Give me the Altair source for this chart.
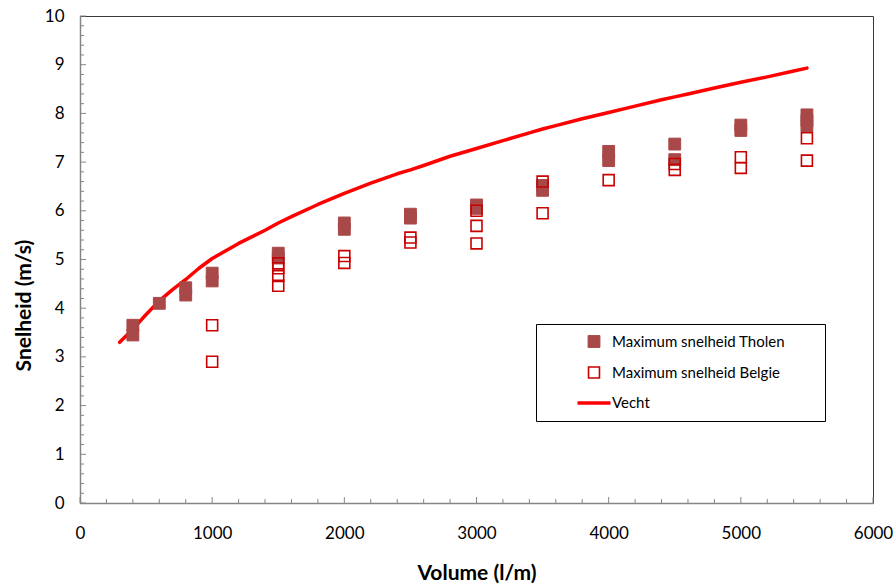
import altair as alt
import pandas as pd
import numpy as np

# ---------------- data ----------------
tholen_volume = [400, 400, 600, 800, 800, 1000, 1000, 1500, 1500, 2000, 2000,
                 2500, 2500, 3000, 3000, 3500, 3500, 4000, 4000, 4500, 4500,
                 5000, 5000, 5500, 5500, 5500]
tholen_speed = [3.65, 3.45, 4.10, 4.42, 4.27, 4.72, 4.56, 5.13, 5.03, 5.75, 5.62,
                5.93, 5.85, 6.12, 6.05, 6.52, 6.42, 7.22, 7.03, 7.37, 7.05,
                7.76, 7.65, 7.97, 7.85, 7.74]

belgie_volume = [1000, 1000, 1500, 1500, 1500, 1500, 2000, 2000, 2500, 2500,
                 3000, 3000, 3000, 3500, 3500, 4000, 4500, 4500, 5000, 5000,
                 5500, 5500]
belgie_speed = [3.65, 2.90, 4.92, 4.82, 4.66, 4.46, 5.07, 4.93, 5.45, 5.35,
                6.00, 5.69, 5.33, 6.60, 5.95, 6.63, 6.96, 6.84, 7.10, 6.88,
                7.49, 7.03]

vecht_volume = [300, 400, 500, 600, 700, 800, 900, 1000, 1200, 1400, 1500, 1600,
                1800, 2000, 2200, 2400, 2500, 2600, 2800, 3000, 3200, 3400, 3500,
                3600, 3800, 4000, 4200, 4400, 4500, 4600, 4800, 5000, 5200, 5400, 5500]
vecht_speed = [3.30, 3.57, 3.87, 4.15, 4.38, 4.59, 4.82, 5.02, 5.33, 5.60, 5.75, 5.88,
               6.13, 6.36, 6.57, 6.76, 6.84, 6.93, 7.12, 7.28, 7.44, 7.60, 7.68,
               7.75, 7.89, 8.02, 8.15, 8.28, 8.34, 8.40, 8.52, 8.64, 8.75, 8.87, 8.93]

series_names = ["Maximum snelheid Tholen", "Maximum snelheid Belgie", "Vecht"]

x_major = list(range(0, 6001, 1000))
x_minor = [v for v in range(0, 6001, 200) if v % 1000 != 0]
y_major = list(range(0, 11))
y_minor = [round(v, 1) for v in np.arange(0, 10.01, 0.2) if abs(v - round(v)) > 1e-6]

# ---------------- layout ----------------
W, H = 793, 487
FONT = "Lato"
AXIS_GRAY = "#868686"

points_df = pd.DataFrame({
    "volume": tholen_volume + belgie_volume,
    "speed": tholen_speed + belgie_speed,
    "series": [series_names[0]] * len(tholen_volume) + [series_names[1]] * len(belgie_volume),
    "order": [0] * len(tholen_volume) + [1] * len(belgie_volume),
})
line_df = pd.DataFrame({"volume": vecht_volume, "speed": vecht_speed,
                        "series": series_names[2]})

xscale = alt.Scale(domain=[0, 6000], nice=False, zero=False)
yscale = alt.Scale(domain=[0, 10], nice=False)

x_axis = alt.Axis(values=x_major, title="Volume (l/m)", ticks=False, grid=False,
                  labelPadding=22, titlePadding=21, format="d", labelFlush=False)
y_axis = alt.Axis(values=y_major, title="Snelheid (m/s)", ticks=False, grid=False,
                  labelPadding=16, titlePadding=10, labelFlush=False, titleY=289)

# the (white, invisible) right-hand title only widens the legend box like the original
leg = alt.Legend(orient="none", legendX=456, legendY=308,
                 title="MM", titleOrient="right", titleColor="white",
                 titleFontSize=14, titlePadding=6,
                 strokeColor="black", fillColor="white", padding=10,
                 symbolOffset=40, labelFont=FONT, labelFontSize=15,
                 labelColor="black", rowPadding=13, labelOffset=10, labelLimit=300)

dom = series_names
stroke_enc = alt.Stroke("series:N", scale=alt.Scale(domain=dom, range=["#a94848", "#c80000", "#ff0000"]), legend=leg)
fill_enc = alt.Fill("series:N", scale=alt.Scale(domain=dom, range=["#a94848", "transparent", "#ff0000"]), legend=leg)
shape_enc = alt.Shape("series:N", scale=alt.Scale(domain=dom, range=["square", "square", "M-2.75,0H2.75"]), legend=leg)
size_enc = alt.Size("series:N", scale=alt.Scale(type="ordinal", domain=dom, range=[140, 120, 144]), legend=leg)
sw_enc = alt.StrokeWidth("series:N", scale=alt.Scale(type="ordinal", domain=dom, range=[1, 1.6, 3.5]), legend=leg)

line = alt.Chart(line_df).mark_line(strokeCap="round", strokeJoin="round").encode(
    x=alt.X("volume:Q", scale=xscale, axis=x_axis),
    y=alt.Y("speed:Q", scale=yscale, axis=y_axis),
    stroke=stroke_enc,
    strokeWidth=sw_enc,
)

pts = alt.Chart(points_df).mark_point(filled=True, opacity=1).encode(
    x=alt.X("volume:Q", scale=xscale, axis=x_axis),
    y=alt.Y("speed:Q", scale=yscale, axis=y_axis),
    stroke=stroke_enc,
    fill=fill_enc,
    shape=shape_enc,
    size=size_enc,
    strokeWidth=sw_enc,
    order=alt.Order("order:Q"),
)

def xticks(vals, length):
    return alt.Chart(pd.DataFrame({"volume": vals})).mark_rule(color=AXIS_GRAY, strokeWidth=1).encode(
        x=alt.X("volume:Q", scale=xscale, axis=x_axis),
        y=alt.value(H), y2=alt.value(H - length))

def yticks(vals, length):
    return alt.Chart(pd.DataFrame({"speed": vals})).mark_rule(color=AXIS_GRAY, strokeWidth=1).encode(
        y=alt.Y("speed:Q", scale=yscale, axis=y_axis),
        x=alt.value(0), x2=alt.value(length))

chart = alt.layer(
    line, pts,
    xticks(x_minor, 4), xticks(x_major, 6), yticks(y_minor, 4), yticks(y_major, 6),
).properties(
    width=W, height=H,
    autosize=alt.AutoSizeParams(type="none"),
    padding={"left": 80, "top": 16, "right": 22, "bottom": 81},
).configure_view(
    stroke="#3a3a3a", strokeWidth=1
).configure_axis(
    labelFont=FONT, labelFontSize=17, labelColor="black",
    titleFont=FONT, titleFontSize=21, titleFontWeight="bold", titleColor="black",
    domainColor=AXIS_GRAY, domainWidth=1.5,
)

chart.save("out.html", embed_options={"renderer": "svg", "actions": False})
